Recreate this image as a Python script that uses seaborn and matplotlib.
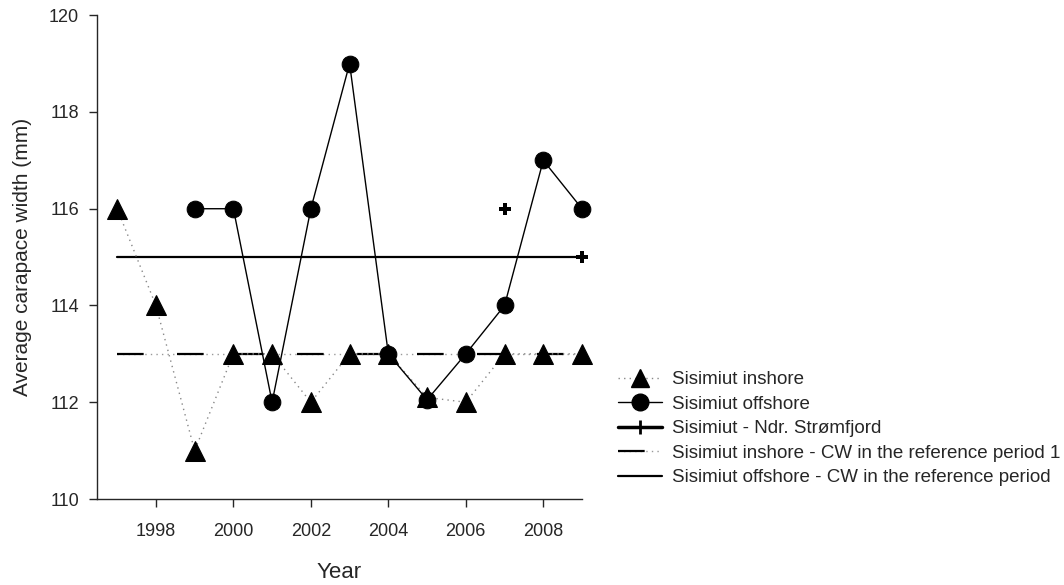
import matplotlib
matplotlib.use("Agg")
import matplotlib.pyplot as plt
import seaborn as sns
import pandas as pd
from matplotlib.lines import Line2D

years = [1997, 1998, 1999, 2000, 2001, 2002, 2003, 2004, 2005, 2006, 2007, 2008, 2009]
inshore = [116, 114, 111, 113, 113, 112, 113, 113, 112.1, 112, 113, 113, 113]
offshore_years = [1999, 2000, 2001, 2002, 2003, 2004, 2005, 2006, 2007, 2008, 2009]
offshore = [116, 116, 112, 116, 119, 113, 112.05, 113, 114, 117, 116]
ndr_years = [2007, 2009]
ndr = [116, 115]
ref_years = [1997, 2009]
inshore_ref = [113, 113]
offshore_ref = [115, 115]

labels = ["Sisimiut inshore", "Sisimiut offshore", "Sisimiut - Ndr. Strømfjord",
          "Sisimiut inshore - CW in the reference period 1",
          "Sisimiut offshore - CW in the reference period"]

sns.set_style("ticks")
plt.rcParams['font.family'] = ['Liberation Sans', 'DejaVu Sans']

fig = plt.figure(figsize=(10.64, 5.85), dpi=100)
ax = fig.add_axes([0.0912, 0.147, 0.4558, 0.827])

df_in = pd.DataFrame({"year": years, "cw": inshore})
df_off = pd.DataFrame({"year": offshore_years, "cw": offshore})
df_ref = pd.DataFrame({"year": ref_years, "inshore": inshore_ref, "offshore": offshore_ref})

# reference lines
sns.lineplot(data=df_ref, x="year", y="offshore", ax=ax, color="black", lw=1.6)
sns.lineplot(data=df_ref, x="year", y="inshore", ax=ax, color="#999999", lw=1.0,
             linestyle=(0, (1, 3)))
sns.lineplot(data=df_ref, x="year", y="inshore", ax=ax, color="black", lw=1.6,
             linestyle=(0, (12, 15)))

# series
sns.lineplot(data=df_in, x="year", y="cw", ax=ax, color="#888888", lw=1.0,
             linestyle=(0, (1, 3)), marker="^", markersize=14, clip_on=False,
             markerfacecolor="black", markeredgecolor="black")
sns.lineplot(data=df_off, x="year", y="cw", ax=ax, color="black", lw=1.0, clip_on=False,
             marker="o", markersize=12, markerfacecolor="black", markeredgecolor="black")
ax.plot(ndr_years, ndr, linestyle="none", marker="P", markersize=8, clip_on=False,
        color="black", markeredgewidth=0)

ax.set_xlim(1996.48, 2009.0)
ax.set_ylim(110, 120)
ax.set_xticks([1998, 2000, 2002, 2004, 2006, 2008])
ax.set_yticks([110, 112, 114, 116, 118, 120])
ax.tick_params(direction="out", length=6, width=1, labelsize=13)
ax.tick_params(axis="y", pad=7)
ax.tick_params(axis="x", pad=11)
sns.despine(ax=ax)
for s in ["left", "bottom"]:
    ax.spines[s].set_linewidth(1)
ax.set_xlabel("Year", fontsize=16, labelpad=16)
ax.set_ylabel("Average carapace width (mm)", fontsize=15, labelpad=12)

h_in = Line2D([], [], color="#888888", lw=1.0, linestyle=(0, (1, 3)), marker="^",
              markersize=13, markerfacecolor="black", markeredgecolor="black")
h_off = Line2D([], [], color="black", lw=1.0, marker="o", markersize=12)
h_ndr = Line2D([], [], color="black", lw=2.5, marker="|", markersize=10, markeredgewidth=2)
h_inref = (Line2D([], [], color="#999999", lw=1.0, linestyle=(0, (1, 3))),
           Line2D([], [], color="black", lw=1.6, linestyle=(0, (12, 30))))
h_offref = Line2D([], [], color="black", lw=1.6)
fig.legend([h_in, h_off, h_ndr, h_inref, h_offref], labels,
           loc="upper left", bbox_to_anchor=(0.5735, 0.378), frameon=False,
           fontsize=13.5, handlelength=2.35, handletextpad=0.53, labelspacing=0.39,
           borderaxespad=0)

fig.savefig("out.png", dpi=100)
